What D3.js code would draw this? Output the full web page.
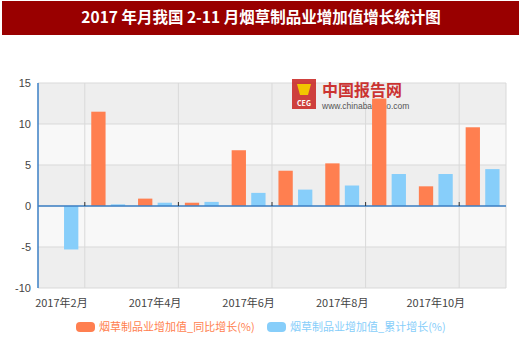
<!DOCTYPE html>
<html><head><meta charset="utf-8">
<script src="https://cdn.jsdelivr.net/npm/d3@7"></script>
<style>body{margin:0;background:#fff;}svg{display:block;font-family:"Noto Sans CJK SC","Noto Sans",sans-serif;}</style>
</head><body>
<svg id="c" width="520" height="339"></svg>
<script>
const title = "2017 年月我国 2-11 月烟草制品业增加值增长统计图";
const categories = ["2017年2月","2017年3月","2017年4月","2017年5月","2017年6月","2017年7月","2017年8月","2017年9月","2017年10月","2017年11月"];
const yoyValues = [null, 11.5, 0.9, 0.4, 6.8, 4.3, 5.2, 13.1, 2.4, 9.6];
const cumValues = [-5.3, 0.2, 0.4, 0.5, 1.6, 2.0, 2.5, 3.9, 3.9, 4.5];
const seriesNames = ["烟草制品业增加值_同比增长(%)","烟草制品业增加值_累计增长(%)"];
const yTicks = [-10, -5, 0, 5, 10, 15];
const xTickLabels = ["2017年2月","2017年4月","2017年6月","2017年8月","2017年10月"];
const colors = ["#ff7f50","#87cefa"];

const svg = d3.select("#c");
const L = 38, R = 506, T = 83, B = 288;

// title bar
svg.append("rect").attr("x",2).attr("y",1).attr("width",517).attr("height",34).attr("fill","#990000");
svg.append("text").attr("x",261).attr("y",23).attr("text-anchor","middle").attr("fill","#fff")
  .attr("font-size",15.5).attr("font-weight","bold").text(title);

const x = d3.scaleBand().domain(categories).range([L,R]);
const y = d3.scaleLinear().domain([-10,15]).range([B,T]);

// bands
for (let i=0;i<yTicks.length-1;i++){
  const a=yTicks[i], b=yTicks[i+1];
  svg.append("rect").attr("x",L).attr("y",y(b)).attr("width",R-L).attr("height",y(a)-y(b))
    .attr("fill", (i%2===0)?"#eeeeee":"#f8f8f8");
}
// horizontal grid
svg.append("g").selectAll("line").data(yTicks).join("line")
  .attr("x1",L).attr("x2",R).attr("y1",d=>y(d)).attr("y2",d=>y(d)).attr("stroke","#d9d9d9");
// vertical grid every 2 categories
const vg = categories.filter((d,i)=>i%2===1).map(d=>x(d));
vg.push(R);
svg.append("g").selectAll("line").data(vg).join("line")
  .attr("x1",d=>d).attr("x2",d=>d).attr("y1",T).attr("y2",B).attr("stroke","#d9d9d9");

// watermark
const wm = svg.append("g");
wm.append("rect").attr("x",292).attr("y",79).attr("width",24).attr("height",30).attr("fill","#c8201c").attr("opacity",0.85);
wm.append("path").attr("d","M297 84 L311 84 L308 95 L300 95 Z").attr("fill","#f2c600");
wm.append("text").attr("x",304).attr("y",106).attr("text-anchor","middle").attr("font-size",7).attr("font-weight","bold").attr("fill","#fff").text("CEG");
wm.append("text").attr("x",322).attr("y",96).attr("font-size",16).attr("font-weight","bold").attr("fill","#c8201c").attr("opacity",0.9).text("中国报告网");
wm.append("text").attr("x",322).attr("y",109).attr("font-size",8.5).attr("fill","#555").attr("font-family","Liberation Sans, Arial, sans-serif").text("www.chinabaogao.com");

// bars
const inner = d3.scaleBand().domain([0,1]).range([0,x.bandwidth()]).paddingInner(0.27).paddingOuter(0.33);
const bw = inner.bandwidth();
[yoyValues,cumValues].forEach((vals,s)=>{
  svg.append("g").selectAll("rect").data(vals.map((v,i)=>({v,c:categories[i]})).filter(d=>d.v!==null)).join("rect")
    .attr("x",d=>x(d.c)+inner(s)).attr("width",bw)
    .attr("y",d=>y(Math.max(0,d.v))).attr("height",d=>Math.abs(y(d.v)-y(0)))
    .attr("fill",colors[s]);
});

// axes lines
svg.append("line").attr("x1",L).attr("x2",R).attr("y1",y(0)).attr("y2",y(0)).attr("stroke","#3b7fc4").attr("stroke-width",1.5);
svg.append("line").attr("x1",L).attr("x2",L).attr("y1",T).attr("y2",B).attr("stroke","#3b7fc4").attr("stroke-width",1.5);
svg.append("g").selectAll("line").data(vg.slice(0,-1)).join("line")
  .attr("x1",d=>d).attr("x2",d=>d).attr("y1",y(0)-4).attr("y2",y(0)).attr("stroke","#333");

// y labels
svg.append("g").selectAll("text").data(yTicks).join("text")
  .attr("x",31).attr("y",d=>y(d)+4).attr("text-anchor","end").attr("font-size",11).attr("fill","#444")
  .attr("font-family","Liberation Sans, Arial, sans-serif").text(d=>d);
// x labels
svg.append("g").selectAll("text").data(xTickLabels).join("text")
  .attr("x",d=>x(d)+x.bandwidth()/2).attr("y",307).attr("text-anchor","middle").attr("font-size",11).attr("fill","#444").text(d=>d);

// legend
const lg = [{x:76},{x:267}];
seriesNames.forEach((n,i)=>{
  svg.append("rect").attr("x",lg[i].x).attr("y",322).attr("width",19).attr("height",10).attr("rx",4).attr("fill",colors[i]);
  svg.append("text").attr("x",lg[i].x+23).attr("y",331).attr("font-size",11).attr("fill",colors[i]).text(n);
});
</script>
</body></html>
